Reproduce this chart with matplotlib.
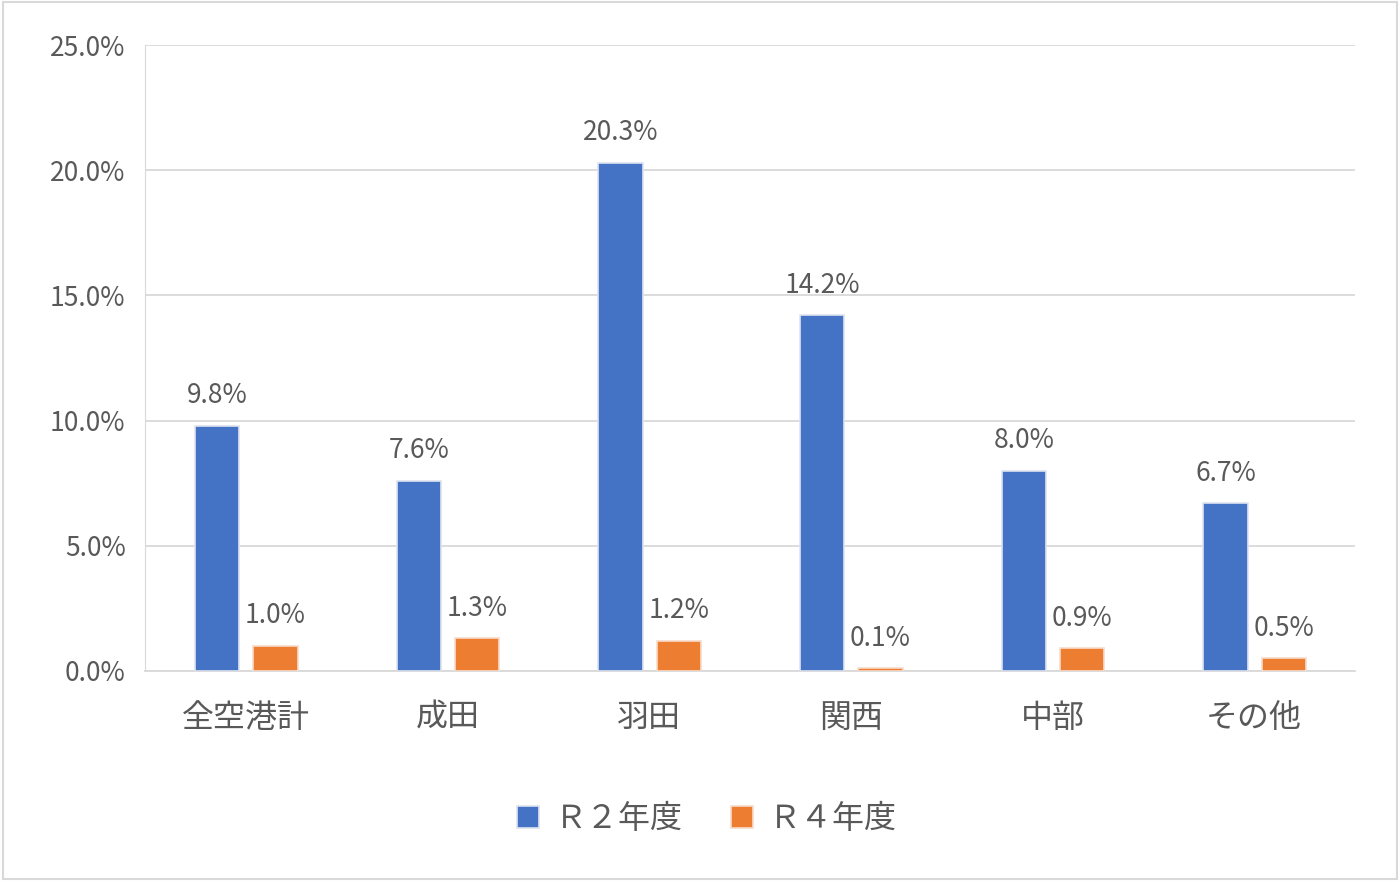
import matplotlib
matplotlib.use("Agg")
import matplotlib.pyplot as plt
from matplotlib.patches import Rectangle
import numpy as np

categories = ["全空港計", "成田", "羽田", "関西", "中部", "その他"]
r2 = [9.8, 7.6, 20.3, 14.2, 8.0, 6.7]
r4 = [1.0, 1.3, 1.2, 0.1, 0.9, 0.5]
series_names = ["Ｒ２年度", "Ｒ４年度"]
yticks = [0, 5, 10, 15, 20, 25]

plt.rcParams["font.family"] = "Noto Sans CJK JP"
gray = "#595959"
fig = plt.figure(figsize=(14, 8.81), dpi=100)
fig.patches.append(Rectangle((0.002, 0.002), 0.996, 0.996, transform=fig.transFigure,
                             fill=False, edgecolor="#d9d9d9", lw=1.5))
ax = fig.add_axes([0.1036, 0.2384, 0.8643, 0.7105])
x = np.arange(len(categories))
w = 0.22
b1 = ax.bar(x - 0.143, r2, w, color="#4472C4", edgecolor="#dde3f0", lw=1.2, zorder=3, label=series_names[0])
b2 = ax.bar(x + 0.147, r4, w, color="#ED7D31", edgecolor="#f7dccb", lw=1.2, zorder=3, label=series_names[1])
for bars, vals in ((b1, r2), (b2, r4)):
    for b, v in zip(bars, vals):
        ax.annotate(f"{v:.1f}%", (b.get_x() + b.get_width() / 2, v), xytext=(0, 12),
                    textcoords="offset points", ha="center", va="bottom", fontsize=19, color=gray)
ax.set_xlim(-0.5, len(categories) - 0.5)
ax.set_ylim(0, 25)
ax.set_yticks(yticks)
ax.set_yticklabels([f"{t:.1f}%" for t in yticks], fontsize=19, color=gray)
ax.set_xticks(x)
ax.set_xticklabels(categories, fontsize=23, color=gray)
ax.tick_params(length=0, pad=14)
ax.tick_params(axis="x", pad=22)
ax.grid(axis="y", color="#d9d9d9", lw=1.3, zorder=0)
for s in ["top", "right"]:
    ax.spines[s].set_visible(False)
ax.spines["left"].set_color("#d9d9d9")
ax.spines["bottom"].set_color("#d9d9d9")
ax.spines["bottom"].set_linewidth(1.3)
fig.legend(handles=[b1, b2], loc="center", bbox_to_anchor=(0.505, 0.07), ncol=2, frameon=False,
           fontsize=23, labelcolor=gray, handlelength=0.7, handleheight=0.7, columnspacing=1.5, handletextpad=0.5)
fig.savefig("out.png", dpi=100)
